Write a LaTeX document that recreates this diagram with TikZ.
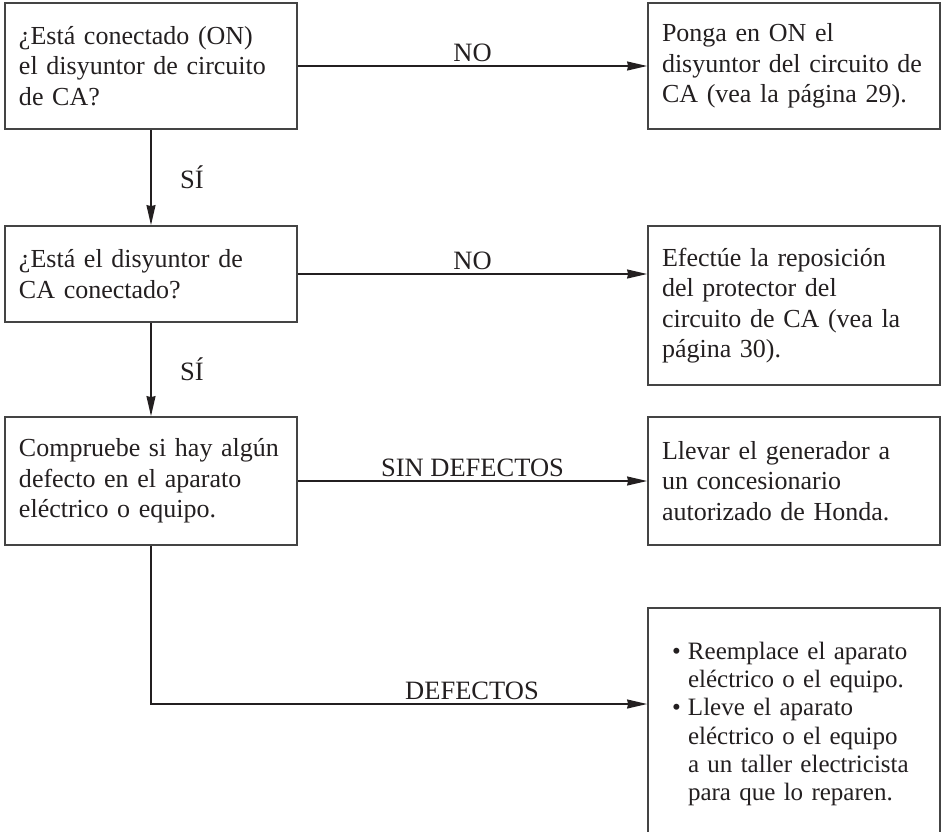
\documentclass[tikz,border=0pt]{standalone}
\usepackage{fontspec}
\setmainfont{Liberation Serif}
\usetikzlibrary{arrows.meta,positioning}

\definecolor{ink}{RGB}{35,31,32}
\definecolor{frame}{RGB}{68,68,68}

% one unbreakable line of box text
\newcommand{\boxline}[1]{\mbox{#1}}
\newcommand{\bulletmark}{\makebox[16pt][l]{\textbullet}}
\newcommand{\hangmark}{\hspace*{16pt}}

\begin{document}
\begin{tikzpicture}[x=1pt,y=-1pt,
    box/.style={draw=frame, line width=1.8pt, text=ink, align=left,
      text width=264pt, inner xsep=14pt, minimum height=#1,
      font=\fontsize{26}{30.5}\selectfont},
    flow/.style={draw=ink, line width=1.4pt,
      -{Stealth[length=20pt,width=9pt,inset=1pt]}},
    tag/.style={text=ink, font=\fontsize{26.5}{30}\selectfont}]

    % Page
    \path[use as bounding box, clip] (0,0) rectangle (942,831);

    % Questions (left column)
    \node[box=126pt] (conn) at (151,66)
      {\boxline{¿Está conectado (ON)}\\
       \boxline{el disyuntor de circuito}\\
       \boxline{de CA?}};
    \node[box=96pt] (brk) at (151,274)
      {\boxline{¿Está el disyuntor de}\\
       \boxline{CA conectado?}};
    \node[box=128pt] (check) at (151,481)
      {\boxline{Compruebe si hay algún}\\
       \boxline{defecto en el aparato}\\
       \boxline{eléctrico o equipo.}};

    % Actions (right column)
    \node[box=126pt] (turnon) at (794,66)
      {\boxline{Ponga en ON el}\\
       \boxline{disyuntor del circuito de}\\
       \boxline{CA (vea la página 29).}};
    \node[box=159pt] (reset) at (794,305.5)
      {\boxline{Efectúe la reposición}\\
       \boxline{del protector del}\\
       \boxline{circuito de CA (vea la}\\
       \boxline{página 30).}};
    \node[box=128pt] (dealer) at (794,481)
      {\boxline{Llevar el generador a}\\
       \boxline{un concesionario}\\
       \boxline{autorizado de Honda.}};
    \node[box=232pt, text width=244pt, inner xsep=24pt,
          font=\fontsize{25}{28.3}\selectfont] (repair) at (794,724)
      {\boxline{\bulletmark Reemplace el aparato}\\
       \boxline{\hangmark eléctrico o el equipo.}\\
       \boxline{\bulletmark Lleve el aparato}\\
       \boxline{\hangmark eléctrico o el equipo}\\
       \boxline{\hangmark a un taller electricista}\\
       \boxline{\hangmark para que lo reparen.}};

    % Answers
    \draw[flow] (conn.east) -- node[tag, above] {NO} (turnon.west);
    \draw[flow] (conn.south) -- node[tag, right=25pt] {SÍ} (brk.north);
    \draw[flow] (brk.east) -- node[tag, above] {NO} (brk.east -| reset.west);
    \draw[flow] (brk.south) -- node[tag, right=25pt] {SÍ} (check.north);
    \draw[flow] (check.east) -- node[tag, above] {SIN DEFECTOS} (dealer.west);

    \coordinate (bend) at (check.south |- 0,704);
    \draw[flow] (check.south) -- (bend)
      -- node[tag, above, pos=0.647] {DEFECTOS} (bend -| repair.west);
\end{tikzpicture}
\end{document}
